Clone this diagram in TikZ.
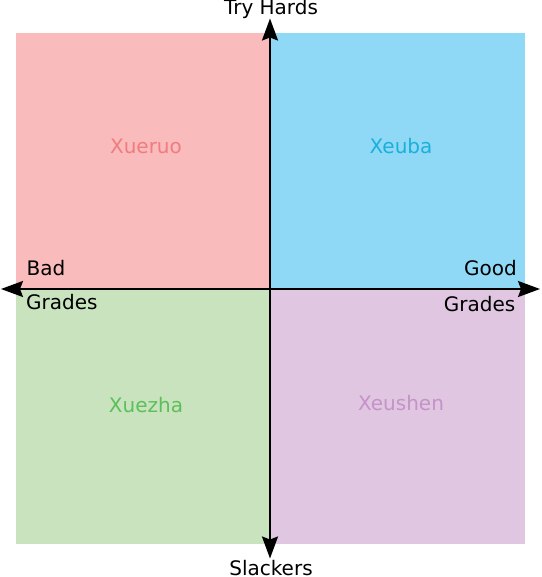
\documentclass[tikz,border=0pt]{standalone}
\usepackage{fontspec}
\setmainfont{DejaVu Sans}
\usetikzlibrary{arrows.meta}
\definecolor{ruofill}{HTML}{F9BBBB}
\definecolor{bafill}{HTML}{8FD8F6}
\definecolor{zhafill}{HTML}{C8E3BE}
\definecolor{shenfill}{HTML}{E0C6E1}
\definecolor{ruotext}{HTML}{F07C80}
\definecolor{batext}{HTML}{1BB0DB}
\definecolor{zhatext}{HTML}{5DBF5A}
\definecolor{shentext}{HTML}{C592C9}

\begin{document}
\begin{tikzpicture}[
  x=1pt, y=-1pt,
  axis/.style={line width=2pt, {Stealth[length=22pt,width=16pt,inset=3pt]}-{Stealth[length=22pt,width=16pt,inset=3pt]}},
  axislbl/.style={font=\fontsize{20}{24}\selectfont, inner sep=0pt},
  quadlbl/.style={font=\fontsize{20}{24}\selectfont, inner sep=0pt, anchor=base}
]
  \useasboundingbox (0,0) rectangle (541,577);
  \fill[ruofill]  (16,33.5)  rectangle (270,289);
  \fill[bafill]   (270,33.5) rectangle (525,289);
  \fill[zhafill]  (16,289)   rectangle (270,543.5);
  \fill[shenfill] (270,289)  rectangle (525,543.5);
  \node[quadlbl, text=ruotext]  (ruo)  at (146,154) {Xueruo};
  \node[quadlbl, text=batext]   (ba)   at (401,154) {Xeuba};
  \node[quadlbl, text=zhatext]  (zha)  at (146,412) {Xuezha};
  \node[quadlbl, text=shentext] (shen) at (401,410) {Xeushen};
  % axes
  \coordinate (west)  at (1,289);
  \coordinate (east)  at (540,289);
  \coordinate (north) at (270,18.5);
  \coordinate (south) at (270,558.5);
  \draw[axis] (west) -- (east);
  \draw[axis] (south) -- (north);
  \node[axislbl, anchor=base] (try) at (271,15) {Try Hards};
  \node[axislbl, anchor=base] (slack) at (271,575.5) {Slackers};
  \node[axislbl, anchor=base west] (bad) at (26.5,275) {Bad};
  \node[axislbl, anchor=base west] (badg) at (26,309.5) {Grades};
  \node[axislbl, anchor=base east] (good) at (517,275) {Good};
  \node[axislbl, anchor=base east] (goodg) at (515.5,311.5) {Grades};
\end{tikzpicture}
\end{document}
